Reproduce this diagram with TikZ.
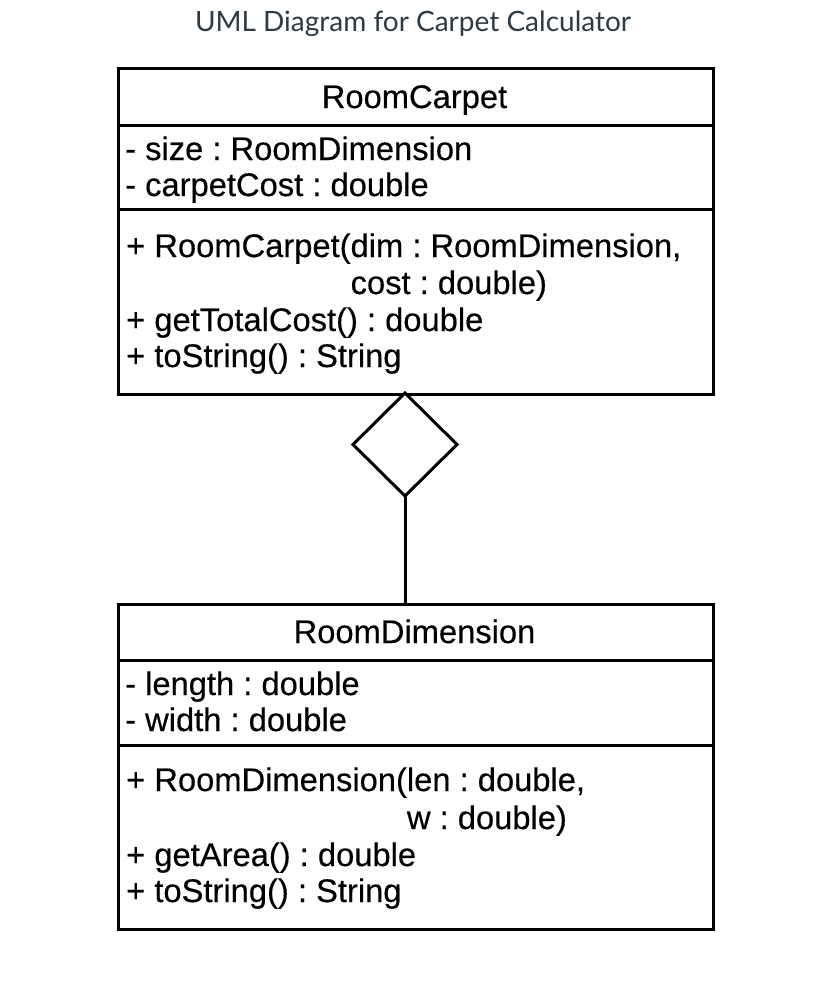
\documentclass[tikz,border=0pt]{standalone}
\usepackage{fontspec}
\setmainfont[FakeBold=0.35]{Liberation Sans}
\newfontfamily\titlefont{Lato}
\usetikzlibrary{shapes.geometric}
\definecolor{titlegray}{HTML}{2D3B45}
\frenchspacing
\begin{document}
\frenchspacing
\begin{tikzpicture}[x=1pt,y=-1pt,
  member/.style={anchor=base west, inner sep=0pt, font=\fontsize{32.7}{37}\selectfont},
  classname/.style={anchor=base, inner sep=0pt, font=\fontsize{32.7}{37}\selectfont},
  classbox/.style={draw, line width=3pt, minimum width=595pt, anchor=north west, inner sep=0pt},
  sep/.style={line width=3pt},
  link/.style={line width=3pt}]
\useasboundingbox (0,0) rectangle (830,988);
\fill[white] (0,0) rectangle (830,988);
\node[font=\titlefont\fontsize{28}{32}\selectfont, text=titlegray, anchor=base, inner sep=0pt] (title) at (413,31) {UML Diagram for Carpet Calculator};

% RoomCarpet
\node[classbox, minimum height=326pt] (rc) at (117,67) {};
\draw[sep] (117,125) -- (712,125);
\draw[sep] (117,209) -- (712,209);
\node[classname] (rcname) at (414.5,108) {RoomCarpet};
\node[member] (rca1) at (125,160) {- size : RoomDimension};
\node[member] (rca2) at (125,196) {- carpetCost : double};
\node[member] (rcm1) at (126,257) {+ RoomCarpet(dim : RoomDimension,};
\node[member] (rcm1b) at (126,294) {\phantom{+ RoomCarpet(}cost : double)};
\node[member] (rcm2) at (126,331) {+ getTotalCost() : double};
\node[member] (rcm3) at (126,367) {+ toString() : String};

% RoomDimension
\node[classbox, minimum height=325pt] (rd) at (117,603) {};
\draw[sep] (117,660) -- (712,660);
\draw[sep] (117,745) -- (712,745);
\node[classname] (rdname) at (414.5,643) {RoomDimension};
\node[member] (rda1) at (125,695) {- length : double};
\node[member] (rda2) at (125,731) {- width : double};
\node[member] (rdm1) at (126,791) {+ RoomDimension(len : double,};
\node[member] (rdm1b) at (126,829) {\phantom{+ RoomDimension(}w : double)};
\node[member] (rdm2) at (126,866) {+ getArea() : double};
\node[member] (rdm3) at (126,902) {+ toString() : String};

% aggregation
\node[diamond, draw, line width=3pt, fill=white, minimum width=104pt, minimum height=103pt, inner sep=0pt, outer sep=0pt, anchor=north] (agg) at (405,393) {};
\draw[link] (agg.south) -- (agg.south |- rd.north);
\end{tikzpicture}
\end{document}
